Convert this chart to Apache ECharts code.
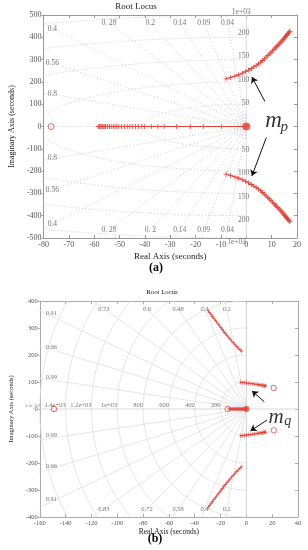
<!DOCTYPE html>
<html><head><meta charset="utf-8">
<script src="https://cdn.jsdelivr.net/npm/echarts@6/dist/echarts.min.js"></script>
<style>html,body{margin:0;padding:0;background:#fff}#c{width:308px;height:550px}</style>
</head><body><div id="c"></div>
<script>
// ================= DATA: panel (a) =================
const aXAxis = [-80, 20, 10];      // min, max, interval
const aYAxis = [-500, 500, 100];
const aZeros = [[-77, 0]];
const aRealLocusX = [-58.4,-58.0,-57.7,-57.3,-56.9,-56.6,-56.2,-55.8,-55.5,-54.7,-54.0,-53.3,-52.5,-51.8,-51.1,-50.3,-49.2,-48.1,-47.0,-45.9,-44.8,-43.7,-42.6,-41.2,-40.1,-37.5,-34.9,-32.4,-27.6,-22.1,-17.0,-9.7,0];
const aOriginPoles = [[0, 0]];
const aUpperBranch = [[-8,214],[-6.2,220],[-4.5,226],[-3,232],[-1.6,239],[-0.3,246],[0.9,253],[2,260],[3,267],[3.9,274],[4.8,281],[5.6,288],[6.4,296],[7.1,303],[7.8,311],[8.5,318],[9.1,325],[9.7,332],[10.3,339],[10.9,346],[11.4,352],[11.9,358],[12.4,364],[12.9,369],[13.3,374],[13.7,379],[14.1,384],[14.5,389],[14.9,394],[15.2,399],[15.5,403],[15.8,408],[16.1,412],[16.4,416],[16.7,420],[17.0,424],[17.2,427]];
const aLowerBranch = [[-8,-214],[-6.2,-220],[-4.5,-226],[-3,-232],[-1.6,-239],[-0.3,-246],[0.9,-253],[2,-260],[3,-267],[3.9,-274],[4.8,-281],[5.6,-288],[6.4,-296],[7.1,-303],[7.8,-311],[8.5,-318],[9.1,-325],[9.7,-332],[10.3,-339],[10.9,-346],[11.4,-352],[11.9,-358],[12.4,-364],[12.9,-369],[13.3,-374],[13.7,-379],[14.1,-384],[14.5,-389],[14.9,-394],[15.2,-399],[15.5,-403],[15.8,-408],[16.1,-412],[16.4,-416],[16.7,-420],[17.0,-424],[17.2,-427]];
const aTopZeta = [0.04, 0.09, 0.14, 0.2, 0.28];
const aTopZetaText = ['0.04','0.09','0.14','0.2','0. 28'];
const aBottomZetaText = ['0.04','0.09','0.14','0. 2','0. 28'];
const aSideZeta = [0.4, 0.56, 0.8];
const aSideZetaText = ['0.4','0.56','0.8'];
const aWn = [50, 100, 150, 200, 250];
const aWnText = ['50','100','150','200'];
const aSmallArcs = [1.2, 2.4, 3.6, 4.8];
const aFarWnText = '1e+03';
const aArrows = [[[7.3,113],[2.2,222]], [[7.9,-49],[2.2,-222]]];

// ================= DATA: panel (b) =================
const bXAxis = [-160, 40, 20];
const bYAxis = [-400, 400, 100];
const bZeros = [[-149,0],[-14.5,0],[21.2,78],[21.2,-79]];
const bRealLocusX = [-13.4,-12.6,-11.8,-11,-10.2,-9.4,-8.6,-7.8,-7,-6.2,-5.4,-4.6,-3.8,-3,-2.2,-1.4,-0.7,0];
const bOriginPoles = [[0, 0]];
const bNearUpper = [[-4.4,99],[-3,98.5],[-1.5,97.5],[0,96.5],[1.5,95.5],[3,94.5],[4.5,93.5],[6,92.5],[7.5,91.5],[8.5,90.5],[9.5,90],[10.5,89],[11.5,88.5],[12.5,87.5],[13.2,87],[13.8,86.5],[14.3,86],[14.8,85.5]];
const bNearLower = [[-4.4,-99],[-3,-98.5],[-1.5,-97.5],[0,-96.5],[1.5,-95.5],[3,-94.5],[4.5,-93.5],[6,-92.5],[7.5,-91.5],[8.5,-90.5],[9.5,-90],[10.5,-89],[11.5,-88.5],[12.5,-87.5],[13.2,-87],[13.8,-86.5],[14.3,-86],[14.8,-85.5]];
const bFarUpper = [[-29.6,364],[-28.5,357],[-27.4,350],[-26.3,343],[-25.2,336],[-24.1,329],[-23,322],[-21.9,315],[-20.8,308],[-19.7,301],[-18.6,294],[-17.5,287],[-16.3,280],[-15.1,273],[-13.9,266],[-12.7,259],[-11.4,252],[-10.1,245],[-8.8,238],[-7.5,231],[-6.2,225],[-4.9,219],[-3.7,213]];
const bFarLower = [[-29.6,-364],[-28.5,-357],[-27.4,-350],[-26.3,-343],[-25.2,-336],[-24.1,-329],[-23,-322],[-21.9,-315],[-20.8,-308],[-19.7,-301],[-18.6,-294],[-17.5,-287],[-16.3,-280],[-15.1,-273],[-13.9,-266],[-12.7,-259],[-11.4,-252],[-10.1,-245],[-8.8,-238],[-7.5,-231],[-6.2,-225],[-4.9,-219],[-3.7,-213]];
const bZeta = [0.2, 0.4, 0.58, 0.72, 0.83, 0.91, 0.96, 0.99];
const bTopZetaText = ['0.2','0.3','0.48','0.6','0.73'];
const bBottomZetaText = ['0.2','0.4','0.58','0.72','0.83'];
const bSideZetaText = ['0.91','0.96','0.99'];
const bWn = [200, 400, 600, 800, 1000, 1200, 1400, 1600];
const bWnText = ['200','400','600','800','1e+03','1.2e+03','1.4e+03','1.6e+03'];
const bArrows = [[[13.9,27],[4.4,67]], [[16,-41],[3.2,-81]]];

// ================= STYLE / GEOMETRY =================
const RED = '#e4433a';
const SERIF = 'Liberation Serif';
const PLUS = 'path://M-1,-0.16H-0.16V-1H0.16V-0.16H1V0.16H0.16V1H-0.16V0.16H-1Z';
const KA = 2.5, AEX = 0.82, AEY = 2.0;   // panel (a) grid aspect
const KB = 5, BEX = 0.1, BEY = 0.5;     // panel (b) grid aspect

const series = [];
function gridLine(data, xi, color, type) {
  series.push({type:'line', xAxisIndex:xi, yAxisIndex:xi, data, showSymbol:false, silent:true,
    lineStyle:{color, width:0.8, type}, z:1, animation:false, clip:true});
}
function ray(z, k, s, L) { return [[0,0],[-z*L, s*k*Math.sqrt(1-z*z)*L]]; }
function ellipse(rx, ry) { const p=[]; for (let i=0;i<=120;i++){const t=Math.PI/2+Math.PI*i/120; p.push([rx*Math.cos(t), ry*Math.sin(t)]);} return p; }

// ---- grid (a) ----
const GA = '#c2c2c2';
const DOT = [1, 2];
aTopZeta.concat(aSideZeta).forEach(z => { gridLine(ray(z,KA,1,2000),0,GA,DOT); gridLine(ray(z,KA,-1,2000),0,GA,DOT); });
gridLine([[0,0],[-200,0]],0,GA,DOT);
aWn.forEach(w => gridLine(ellipse(AEX*w, AEY*w),0,GA,DOT));
aSmallArcs.forEach(r => gridLine(ellipse(r, r*11),0,GA,DOT));
gridLine([[0,-500],[0,500]],0,'#d0d0d0','solid');
// ---- grid (b) ----
const GB = '#e0e0e0';
bZeta.forEach(z => { gridLine(ray(z,KB,1,2000),1,GB,'solid'); gridLine(ray(z,KB,-1,2000),1,GB,'solid'); });
bWn.forEach(w => gridLine(ellipse(BEX*w, BEY*w),1,GB,'solid'));
gridLine([[-160,0],[40,0]],1,'#cfcfcf','solid');
gridLine([[0,-400],[0,400]],1,'#c4c4c4','solid');

// ---- text labels ----
function texts(xi, items, fontSize, color, arrows) {
  const s = {type:'scatter', xAxisIndex:xi, yAxisIndex:xi, symbolSize:1, clip:false, silent:true, z:5,
    itemStyle:{color:'rgba(0,0,0,0)'}, animation:false,
    label:{show:true, position:'inside', formatter:'{b}', fontFamily:SERIF, fontSize, color},
    data: items.map(it => ({name:it.t, value:[it.x,it.y], label: Object.assign({}, it.l||{})}))};
  if (arrows) s.markLine = {silent:true, animation:false, symbol:['none','arrow'], symbolSize:6,
    lineStyle:{color:'#111', width:1, type:'solid'}, label:{show:false},
    data: arrows.map(a => [{coord:a[0]},{coord:a[1]}])};
  series.push(s);
}
const aTexts = [];
aTopZeta.forEach((z,i) => {
  const x = -464*z/(KA*Math.sqrt(1-z*z));
  aTexts.push({t:aTopZetaText[i], x, y:464});
  aTexts.push({t:aBottomZetaText[i], x, y:-464});
});
aSideZeta.forEach((z,i) => {
  const y = 76.5*KA*Math.sqrt(1-z*z)/z;
  aTexts.push({t:aSideZetaText[i], x:-76.5, y});
  aTexts.push({t:aSideZetaText[i], x:-76.5, y:-y});
});
aWnText.forEach((t,i) => {
  aTexts.push({t, x:1.2, y:2.1*aWn[i], l:{align:'right'}});
  aTexts.push({t, x:1.2, y:-2.1*aWn[i], l:{align:'right'}});
});
aTexts.push({t:aFarWnText, x:-2.0, y:515});
aTexts.push({t:aFarWnText, x:-3.8, y:-520});
texts(0, aTexts, 7.5, '#555', aArrows);
texts(0, [
  {t:'m', x:10.7, y:25, l:{fontSize:23, fontStyle:'italic', color:'#000'}},
  {t:'p', x:15.0, y:-2, l:{fontSize:15, fontStyle:'italic', color:'#000'}}
], 20, '#000');

const bTexts = [];
bZeta.slice(0,5).forEach((z,i) => {
  const x = -371*z/(KB*Math.sqrt(1-z*z));
  bTexts.push({t:bTopZetaText[i], x, y:371});
  bTexts.push({t:bBottomZetaText[i], x, y:-371});
});
bZeta.slice(5).forEach((z,i) => {
  const y = 151*KB*Math.sqrt(1-z*z)/z + 9;
  bTexts.push({t:bSideZetaText[i], x:-151, y});
  bTexts.push({t:bSideZetaText[i], x:-151, y:-y+18});
});
bWn.forEach((w,i) => {
  bTexts.push({t:bWnText[i], x:-BEX*w, y:12, l: Object.assign({align:'right'}, w===1600?{fontSize:4.5}:{})});
});
texts(1, bTexts, 6.5, '#555', bArrows);
texts(1, [
  {t:'m', x:23, y:-30, l:{fontSize:21, fontStyle:'italic', color:'#000'}},
  {t:'q', x:32, y:-47, l:{fontSize:14, fontStyle:'italic', color:'#000'}}
], 20, '#000');

// ---- locus series ----
function locus(xi, data, size) {
  series.push({type:'line', xAxisIndex:xi, yAxisIndex:xi, data, symbol:PLUS, symbolSize:size, showSymbol:true,
    itemStyle:{color:RED}, lineStyle:{color:RED, width:1}, z:3, animation:false, silent:true});
}
function dots(xi, data, size, hollow) {
  series.push({type:'scatter', xAxisIndex:xi, yAxisIndex:xi, data, symbol:'circle', symbolSize:size, z:4,
    itemStyle: hollow ? {color:'rgba(255,255,255,0)', borderColor:RED, borderWidth:1} : {color:RED},
    animation:false, silent:true});
}
locus(0, aRealLocusX.map(x => [x, 0]), 5);
locus(0, aUpperBranch, 5);
locus(0, aLowerBranch, 5);
dots(0, aZeros, 6, true);
dots(0, aOriginPoles, 8, false);

locus(1, bRealLocusX.map(x => [x, 0]), 4);
locus(1, bNearUpper, 4);
locus(1, bNearLower, 4);
locus(1, bFarUpper, 3.5);
locus(1, bFarLower, 3.5);
dots(1, bZeros, 5.5, true);
dots(1, bOriginPoles, 6, false);

// ---- axes ----
function xAx(gi, r, show, fs, color, name, gap) {
  return {type:'value', gridIndex:gi, min:r[0], max:r[1], interval:r[2], position: show?'bottom':'top',
    axisLine:{show:true, onZero:false, lineStyle:{color, width:1}},
    axisTick:{show:true, inside:true, length:3, lineStyle:{color}},
    axisLabel:{show:show, margin:3, fontFamily:SERIF, fontSize:fs, color:'#555'},
    splitLine:{show:false},
    name: show?name:'', nameLocation:'middle', nameGap:gap,
    nameTextStyle:{fontFamily:SERIF, fontSize:fs+1, color:'#222'}};
}
function yAx(gi, r, show, fs, color, name, gap) {
  return {type:'value', gridIndex:gi, min:r[0], max:r[1], interval:r[2], position: show?'left':'right',
    axisLine:{show:true, onZero:false, lineStyle:{color, width:1}},
    axisTick:{show:true, inside:!show, length:show?2:3, lineStyle:{color}},
    axisLabel:{show:show, margin:2, fontFamily:SERIF, fontSize:fs, color:'#555'},
    splitLine:{show:false},
    name: show?name:'', nameLocation:'middle', nameGap:gap,
    nameTextStyle:{fontFamily:SERIF, fontSize:fs, color:'#222'}};
}

const option = {
  animation:false,
  backgroundColor:'#fff',
  grid:[
    {left:24, top:15, width:273, height:223},
    {left:28, top:301, width:270, height:216}
  ],
  xAxis:[
    xAx(0, aXAxis, true, 8, '#999', 'Real Axis (seconds)', 14),
    xAx(1, bXAxis, true, 6.5, '#aaa', 'Real Axis (seconds)', 6),
    Object.assign(xAx(0, aXAxis, false, 8, '#999'), {gridIndex:0}),
    Object.assign(xAx(1, bXAxis, false, 6.5, '#aaa'), {gridIndex:1})
  ],
  yAxis:[
    yAx(0, aYAxis, true, 8, '#999', 'Imaginary Axis (seconds)', 15),
    yAx(1, bYAxis, true, 6.5, '#aaa', 'Imaginary Axis (seconds)', 15),
    yAx(0, aYAxis, false, 8, '#999'),
    yAx(1, bYAxis, false, 6.5, '#aaa')
  ],
  graphic:[
    {type:'text', x:136, y:7, style:{text:'Root Locus', font:'9px "Liberation Serif"', fill:'#222', textAlign:'center', textVerticalAlign:'middle'}},
    {type:'text', x:162, y:292, style:{text:'Root Locus', font:'6.8px "Liberation Serif"', fill:'#222', textAlign:'center', textVerticalAlign:'middle'}},
    {type:'text', x:156, y:268, style:{text:'(a)', font:'bold 12px "Liberation Serif"', fill:'#000', textAlign:'center', textVerticalAlign:'middle'}},
    {type:'text', x:155, y:539, style:{text:'(b)', font:'bold 12px "Liberation Serif"', fill:'#000', textAlign:'center', textVerticalAlign:'middle'}}
  ],
  series
};
const chart = echarts.init(document.getElementById('c'), null, {renderer:'canvas'});
chart.setOption(option);
</script>
</body></html>
